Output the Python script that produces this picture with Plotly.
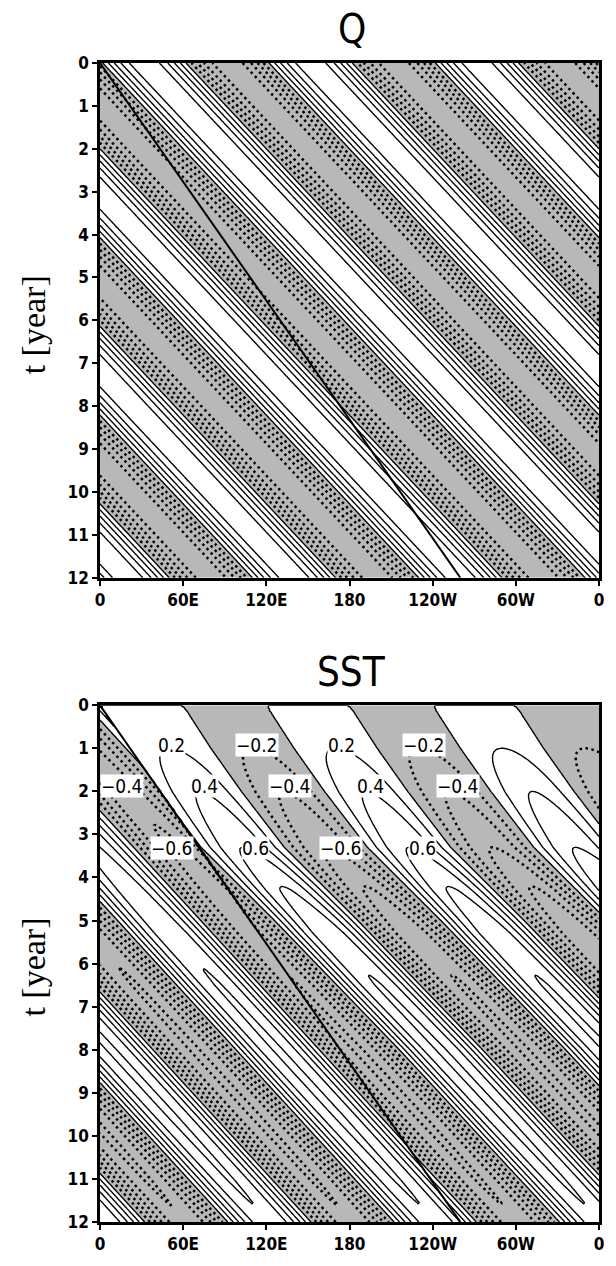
import numpy as np
import plotly.graph_objects as go
from plotly.subplots import make_subplots

# ---------------- data ----------------
LON_TICKS = [0, 60, 120, 180, 240, 300, 360]
LON_LABELS = ["0", "60E", "120E", "180", "120W", "60W", "0"]
YEAR_TICKS = list(range(0, 13))

WAVENUMBER = 3                      # three crests around the globe

# Q : eastward-propagating band pattern
Q_AMPLITUDE = 0.95
Q_SPEED = 29.0                      # deg lon per year
Q_PHASE_LON = 2.0                   # lon of first zero crossing at t=0

# ray (front) drawn from the origin in both panels
RAY_LON = [0.0, 260.0]
RAY_T = [0.0, 12.0]

# SST amplitude evolution (read from 0.2/0.4/0.6 tongue tips and end hooks)
SST_AMP_T = [0.0, 1.0, 2.0, 3.3, 4.3, 5.3, 6.5, 8.0, 9.5, 11.0, 11.6, 12.0]
SST_A_AMP_V = [0.0, 0.2, 0.4, 0.6, 0.82, 0.96, 1.01, 1.02, 1.02, 1.01, 1.0, 0.995]
SST_B_AMP_V = [0.62, 0.68, 0.74, 0.84, 0.92, 0.98, 1.01, 1.02, 1.02, 1.01, 1.0, 0.995]

# SST phase (lon of first zero crossing) ahead of the front
SST_A_PHASE_T = [0.0, 1.0, 2.0, 3.3, 5.0, 8.0, 11.6, 12.0]
SST_A_PHASE_LON = [0.0, 20.0, 42.0, 73.0, 126.0, 216.0, 320.0, 331.5]
# SST behind the front
SST_B_SPEED = 28.5
SST_B_PHASE_LON = -9.8

POS_LEVELS = (0.0, 1.0, 0.2)        # start, end, step (solid)
NEG_LEVELS = (-1.0, -0.2, 0.2)      # start, end, step (dashed)

LABEL_TEXT = ["0.2", "\u22120.2", "0.2", "\u22120.2",
              "\u22120.4", "0.4", "\u22120.4", "0.4", "\u22120.4",
              "\u22120.6", "0.6", "\u22120.6", "0.6"]
LABEL_LON = [51.5, 113.5, 174.0, 234.0,
             15.7, 75.5, 137.0, 195.0, 258.0,
             52.2, 112.0, 174.0, 233.0]
LABEL_T = [0.92, 0.92, 0.92, 0.92,
           1.88, 1.88, 1.88, 1.88, 1.88,
           3.31, 3.31, 3.31, 3.31]

# ---------------- fields ----------------
deg = np.pi / 180.0
lon = np.linspace(0, 360, 481)
t = np.linspace(0, 12, 401)
LON, T = np.meshgrid(lon, t)

q_field = Q_AMPLITUDE * np.sin(WAVENUMBER * (LON - Q_SPEED * T - Q_PHASE_LON) * deg)

ray_speed = (RAY_LON[1] - RAY_LON[0]) / (RAY_T[1] - RAY_T[0])
amp_a = np.interp(T, SST_AMP_T, SST_A_AMP_V)
amp_b = np.interp(T, SST_AMP_T, SST_B_AMP_V)
x0a = np.interp(T, SST_A_PHASE_T, SST_A_PHASE_LON)
x0b = SST_B_SPEED * T + SST_B_PHASE_LON
ahead = LON > ray_speed * T
sst_field = np.where(ahead,
                     amp_a * np.sin(WAVENUMBER * (LON - x0a) * deg),
                     amp_b * np.sin(WAVENUMBER * (LON - x0b) * deg))

q_field = np.round(q_field, 3)
sst_field = np.round(sst_field, 3)

# ---------------- figure ----------------
W, H = 616, 1266
ML, MR, MT, MB = 100, 13, 63, 30
ph = H - MT - MB
top_dom = [1 - 521 / ph, 1]
bot_dom = [0, 523 / ph]

fig = make_subplots(rows=2, cols=1, vertical_spacing=0.0)

GRAY = "#b8b8b8"
BLACK_SCALE = [[0, "black"], [1, "black"]]


def add_panel(z, row):
    # shade negative values (constraint shades the region failing z > 0)
    fig.add_trace(go.Contour(x=lon, y=t, z=z, showscale=False,
                             contours=dict(type="constraint", operation=">", value=0),
                             fillcolor=GRAY, line=dict(width=0), hoverinfo="skip"),
                  row=row, col=1)
    fig.add_trace(go.Contour(x=lon, y=t, z=z, showscale=False, colorscale=BLACK_SCALE,
                             autocontour=False,
                             contours=dict(start=POS_LEVELS[0], end=POS_LEVELS[1],
                                           size=POS_LEVELS[2], coloring="lines"),
                             line=dict(width=1.4), hoverinfo="skip"),
                  row=row, col=1)
    fig.add_trace(go.Contour(x=lon, y=t, z=z, showscale=False, colorscale=BLACK_SCALE,
                             autocontour=False,
                             contours=dict(start=NEG_LEVELS[0], end=NEG_LEVELS[1],
                                           size=NEG_LEVELS[2], coloring="lines"),
                             line=dict(width=2.5, dash="2.5px,3.5px"), hoverinfo="skip"),
                  row=row, col=1)
    fig.add_trace(go.Scatter(x=RAY_LON, y=RAY_T, mode="lines",
                             line=dict(color="black", width=2.0),
                             showlegend=False, hoverinfo="skip"),
                  row=row, col=1)


add_panel(q_field, 1)
add_panel(sst_field, 2)

TICK_FONT = dict(family="Liberation Sans Narrow, DejaVu Sans Condensed, sans-serif",
                 size=17, color="black", weight="bold")
axis_common = dict(showline=True, mirror=True, linewidth=2.5, linecolor="black",
                   ticks="outside", ticklen=5, tickwidth=2, tickcolor="black",
                   showgrid=False, zeroline=False, tickfont=TICK_FONT)

for r, dom in ((1, top_dom), (2, bot_dom)):
    fig.update_xaxes(range=[0, 360], tickvals=LON_TICKS, ticktext=LON_LABELS,
                     domain=[0, 1], row=r, col=1, **axis_common)
    fig.update_yaxes(range=[12, 0], tickvals=YEAR_TICKS, domain=dom,
                     row=r, col=1, **axis_common)

TITLE_FONT = dict(family="Liberation Sans Narrow, DejaVu Sans Condensed, sans-serif",
                  size=40, color="black")
SERIF = dict(family="Liberation Serif, Times New Roman, serif", size=34, color="black")


def py(ypix):
    return (H - MB - ypix) / ph


annotations = [
    dict(text="Q", x=0.505, y=py(29), xref="paper", yref="paper",
         showarrow=False, font=TITLE_FONT, xanchor="center", yanchor="middle"),
    dict(text="SST", x=0.505, y=py(679), xref="paper", yref="paper",
         showarrow=False, font=TITLE_FONT, xanchor="center", yanchor="middle"),
    dict(text="t [year]", x=(33 - ML) / (W - ML - MR), y=py(328), xref="paper",
         yref="paper", showarrow=False, font=SERIF, textangle=-90,
         xanchor="center", yanchor="middle"),
    dict(text="t [year]", x=(33 - ML) / (W - ML - MR), y=py(978), xref="paper",
         yref="paper", showarrow=False, font=SERIF, textangle=-90,
         xanchor="center", yanchor="middle"),
]
LABEL_FONT = dict(family="Liberation Sans Narrow, DejaVu Sans Condensed, sans-serif",
                  size=19, color="black")
for txt, lo, tt in zip(LABEL_TEXT, LABEL_LON, LABEL_T):
    annotations.append(dict(text=txt, x=lo, y=tt, xref="x2", yref="y2",
                            showarrow=False, font=LABEL_FONT, bgcolor="white",
                            borderpad=0, xanchor="center", yanchor="middle"))

fig.update_layout(width=W, height=H, margin=dict(l=ML, r=MR, t=MT, b=MB),
                  paper_bgcolor="white", plot_bgcolor="white",
                  showlegend=False, annotations=annotations)

fig.write_html("out.html")
